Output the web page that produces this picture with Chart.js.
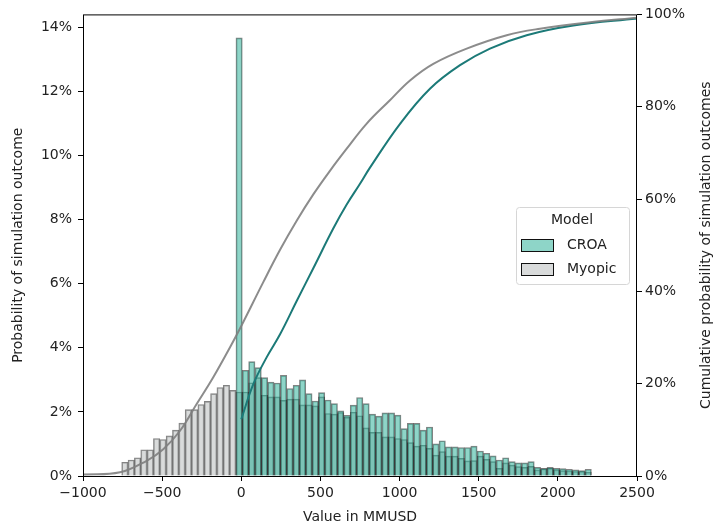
<!DOCTYPE html>
<html>
<head>
<meta charset="utf-8">
<script src="https://cdn.jsdelivr.net/npm/chart.js@4.4.0/dist/chart.umd.min.js"></script>
<style>
body { margin: 0; background: #fff; }
</style>
</head>
<body>
<canvas id="chart" width="715" height="529"></canvas>
<script>
// bin centres of the histogram (MMUSD), shared by both models
const binCenters = [-735.5, -695.4, -655.3, -615.2, -575.1, -535.0, -494.9, -454.8, -414.7, -374.6,
    -334.5, -294.4, -254.3, -214.2, -174.1, -134.0, -93.9, -53.8, -13.7, 26.4,
    66.5, 106.6, 146.7, 186.8, 226.9, 267.0, 307.1, 347.2, 387.3, 427.4,
    467.5, 507.6, 547.7, 587.8, 627.9, 668.0, 708.1, 748.2, 788.3, 828.4,
    868.5, 908.6, 948.7, 988.8, 1028.9, 1069.0, 1109.1, 1149.2, 1189.3, 1229.4,
    1269.5, 1309.6, 1349.7, 1389.8, 1429.9, 1470.0, 1510.1, 1550.2, 1590.3, 1630.4,
    1670.5, 1710.6, 1750.7, 1790.8, 1830.9, 1871.0, 1911.1, 1951.2, 1991.3, 2031.4,
    2071.5, 2111.6, 2151.7, 2191.8]

// probability per bin (%)
const croa = [null, null, null, null, null, null, null, null, null, null,
    null, null, null, null, null, null, null, null, 13.67, 3.30,
    3.57, 3.38, 3.07, 2.93, 2.90, 3.14, 2.73, 2.83, 3.00, 2.57,
    2.34, 2.60, 2.37, 2.26, 2.03, 1.89, 2.21, 2.45, 2.26, 1.93,
    1.87, 1.97, 1.97, 1.90, 1.48, 1.64, 1.64, 1.43, 1.53, 1.00,
    1.10, 0.91, 0.91, 0.89, 0.89, 0.93, 0.78, 0.71, 0.63, 0.50,
    0.57, 0.45, 0.41, 0.41, 0.45, 0.27, 0.24, 0.27, 0.24, 0.23,
    0.21, 0.19, 0.17, 0.21]
const myopic = [0.43, 0.50, 0.57, 0.82, 0.82, 1.17, 1.14, 1.25, 1.43, 1.65,
    2.07, 2.07, 2.23, 2.33, 2.57, 2.76, 2.83, 2.67, 2.62, 2.62,
    2.91, 3.07, 2.52, 2.47, 2.47, 2.36, 2.40, 2.40, 2.22, 2.22,
    2.19, 2.47, 1.95, 1.93, 1.98, 1.83, 1.99, 1.88, 1.50, 1.36,
    1.36, 1.22, 1.22, 1.17, 1.14, 1.04, 0.93, 0.96, 0.86, 0.65,
    0.76, 0.62, 0.62, 0.55, 0.47, 0.48, 0.62, 0.52, 0.45, 0.24,
    0.41, 0.34, 0.29, 0.27, 0.30, 0.19, 0.22, 0.24, 0.19, 0.17,
    0.16, 0.14, 0.14, 0.12]

// cumulative curves (%)
const myopicCdfX = [-1000, -766, -598, -493, -387, -282, -177, -71, 0, 139, 245, 350, 455, 560, 666, 791, 939, 1066, 1213, 1424, 1677, 1887, 2203, 2500]
const myopicCdfY = [0.3, 0.8, 3.3, 5.8, 9.8, 15.6, 21.4, 27.9, 32.5, 42.0, 49.0, 55.3, 61.0, 66.1, 70.9, 76.3, 81.4, 85.7, 89.3, 92.6, 95.5, 96.9, 98.3, 99.3]
const croaCdfX = [0, 76, 160, 245, 350, 455, 581, 666, 750, 813, 1003, 1192, 1382, 1571, 1803, 2098, 2500]
const croaCdfY = [12.3, 19.9, 25.7, 30.7, 37.9, 45.0, 53.6, 58.8, 63.3, 66.8, 76.3, 83.9, 89.0, 92.6, 95.5, 97.6, 99.1]

const xTicks = [-1000, -500, 0, 500, 1000, 1500, 2000, 2500]

const font = "DejaVu Sans"
Chart.defaults.font.family = font
Chart.defaults.font.size = 14
Chart.defaults.color = "#222"

function pairs(xs, ys) {
    return xs.map((x, i) => ({ x: x, y: ys[i] }))
}

const extras = {
    id: "extras",
    afterDraw(chart) {
        const ctx = chart.ctx
        const a = chart.chartArea
        ctx.save()
        // frame
        ctx.strokeStyle = "#000"
        ctx.lineWidth = 1
        ctx.strokeRect(a.left + 0.5, a.top + 0.5, a.right - a.left - 1, a.bottom - a.top)
        // right axis title (reads bottom to top)
        ctx.fillStyle = "#222"
        ctx.font = "14px '" + font + "'"
        ctx.textAlign = "center"
        ctx.textBaseline = "middle"
        ctx.translate(706, (a.top + a.bottom) / 2)
        ctx.rotate(-Math.PI / 2)
        ctx.fillText("Cumulative probability of simulation outcomes", 0, 0)
        ctx.restore()

        // legend
        ctx.save()
        const lx = 516, ly = 207, lw = 113, lh = 77
        ctx.fillStyle = "rgba(255,255,255,0.85)"
        ctx.strokeStyle = "#d6d6d6"
        ctx.lineWidth = 1
        ctx.beginPath()
        ctx.roundRect(lx + 0.5, ly + 0.5, lw, lh, 3)
        ctx.fill()
        ctx.stroke()
        ctx.fillStyle = "#222"
        ctx.font = "14px '" + font + "'"
        ctx.textAlign = "center"
        ctx.textBaseline = "middle"
        ctx.fillText("Model", 572, 220)
        const items = [
            { label: "CROA", fill: "rgba(30,172,145,0.5)", y: 239 },
            { label: "Myopic", fill: "rgba(180,184,184,0.5)", y: 263 }
        ]
        items.forEach(function (it) {
            ctx.fillStyle = it.fill
            ctx.fillRect(521, it.y, 32, 12)
            ctx.strokeStyle = "#111"
            ctx.strokeRect(521.5, it.y + 0.5, 32, 12)
            ctx.fillStyle = "#222"
            ctx.textAlign = "left"
            ctx.fillText(it.label, 567, it.y + 6)
        })
        ctx.restore()
    }
}

new Chart(document.getElementById("chart"), {
    type: "bar",
    data: {
        datasets: [
            {
                type: "line",
                label: "Myopic cdf",
                data: pairs(myopicCdfX, myopicCdfY),
                yAxisID: "y2",
                borderColor: "rgba(128,128,128,0.9)",
                borderWidth: 2,
                pointRadius: 0,
                tension: 0.4,
                order: 0
            },
            {
                type: "line",
                label: "CROA cdf",
                data: pairs(croaCdfX, croaCdfY),
                yAxisID: "y2",
                borderColor: "#1c7a78",
                borderWidth: 2,
                pointRadius: 0,
                tension: 0.4,
                order: 0
            },
            {
                label: "CROA",
                data: pairs(binCenters, croa),
                yAxisID: "y",
                backgroundColor: "rgba(30,172,145,0.5)",
                borderColor: "rgba(30,30,30,0.55)",
                borderWidth: 1,
                grouped: false,
                barPercentage: 1,
                categoryPercentage: 1,
                order: 1
            },
            {
                label: "Myopic",
                data: pairs(binCenters, myopic),
                yAxisID: "y",
                backgroundColor: "rgba(180,184,184,0.5)",
                borderColor: "rgba(30,30,30,0.55)",
                borderWidth: 1,
                grouped: false,
                barPercentage: 1,
                categoryPercentage: 1,
                order: 2
            }
        ]
    },
    options: {
        responsive: false,
        animation: false,
        layout: { padding: { top: 13 } },
        plugins: {
            legend: { display: false },
            tooltip: { enabled: false }
        },
        scales: {
            x: {
                type: "linear",
                min: -1000,
                max: 2500,
                offset: false,
                afterBuildTicks: function (axis) {
                    axis.ticks = xTicks.map(v => ({ value: v }))
                },
                afterFit: function (axis) { axis.height = 53 },
                ticks: {
                    padding: 4,
                    maxRotation: 0,
                    callback: v => String(v).replace("-", "\u2212")
                },
                grid: { display: true, drawOnChartArea: false, offset: false, tickLength: 5, color: "#000" },
                border: { display: false },
                title: { display: true, text: "Value in MMUSD", padding: { top: 0, bottom: 3 } }
            },
            y: {
                position: "left",
                min: 0,
                max: 14.4,
                afterBuildTicks: function (axis) {
                    axis.ticks = [0, 2, 4, 6, 8, 10, 12, 14].map(v => ({ value: v }))
                },
                afterFit: function (axis) { axis.width = 83 },
                ticks: { padding: 6, callback: v => v + "%" },
                grid: { display: true, drawOnChartArea: false, tickLength: 5, color: "#000" },
                border: { display: false },
                title: { display: true, text: "Probability of simulation outcome", padding: { top: 10, bottom: 0 } }
            },
            y2: {
                position: "right",
                min: 0,
                max: 100,
                afterBuildTicks: function (axis) {
                    axis.ticks = [0, 20, 40, 60, 80, 100].map(v => ({ value: v }))
                },
                afterFit: function (axis) { axis.width = 78 },
                ticks: { padding: 3, callback: v => v + "%" },
                grid: { display: true, drawOnChartArea: false, tickLength: 5, color: "#000" },
                border: { display: false }
            }
        }
    },
    plugins: [extras]
})
</script>
</body>
</html>
